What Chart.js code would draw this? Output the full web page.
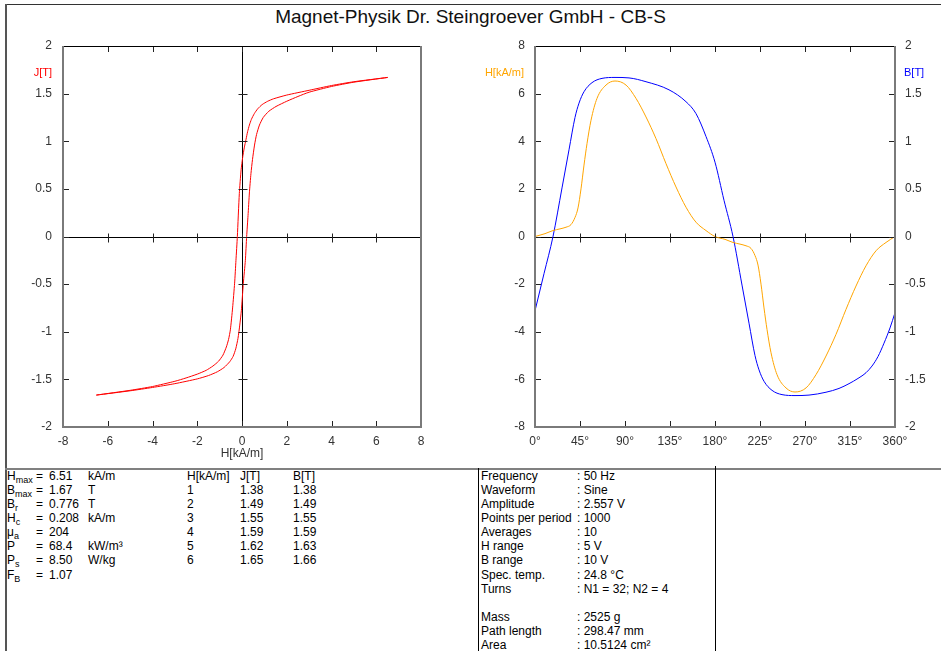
<!DOCTYPE html>
<html>
<head>
<meta charset="utf-8">
<title>Magnet-Physik CB-S</title>
<script src="https://cdn.jsdelivr.net/npm/chart.js@4.4.1/dist/chart.umd.min.js"></script>
<style>
  body { margin: 0; background: #fff; }
  #page { position: relative; width: 941px; height: 651px; overflow: hidden; background: #fff;
          font-family: 'Liberation Sans', Arial, sans-serif; color: #000; }
  .abs { position: absolute; white-space: nowrap; }
  #title { left: 0; width: 941px; top: 5px; text-align: center; font-size: 19px; line-height: 24px; color: #111; }
  .axisName { font-size: 11px; line-height: 14px; }
  .cell { font-size: 12px; line-height: 14px; }
  sub { font-size: 9px; vertical-align: -3px; line-height: 0; }
</style>
</head>
<body>
<div id="page">
  <div class="abs" style="left:5px;top:4px;width:936px;height:1px;background:#333"></div>
  <div class="abs" style="left:5px;top:4px;width:2px;height:647px;background:#555"></div>
  <div class="abs" style="left:5px;top:468px;width:936px;height:2px;background:#808080"></div>
  <div class="abs" style="left:478px;top:468px;width:1px;height:183px;background:#000"></div>
  <div class="abs" style="left:715px;top:466px;width:1px;height:185px;background:#000"></div>

  <div id="title" class="abs">Magnet-Physik Dr. Steingroever GmbH - CB-S</div>

  <canvas id="loopChart" class="abs" width="470" height="467" style="left:0;top:0"></canvas>
  <canvas id="waveChart" class="abs" width="471" height="467" style="left:470px;top:0"></canvas>

  <div class="abs axisName" style="right:889px;top:65px;color:#ff0000">J[T]</div>
  <div class="abs axisName" style="right:417px;top:65px;color:#ffa500">H[kA/m]</div>
  <div class="abs axisName" style="left:904px;top:65px;color:#0000ff">B[T]</div>

  <div id="tables"></div>
</div>

<script>
// Hysteresis loop, descending branch (H from +Hmax to -Hmax)
const descH = [6.51, 5, 4, 3, 2, 1.4, 1.15, 0.9, 0.7, 0.55, 0.42, 0.33, 0.25, 0.18, 0.1, 0.03, -0.04, -0.12, -0.208,
               -0.27, -0.33, -0.42, -0.52, -0.6, -0.7, -0.85, -1.05, -1.3, -1.6, -2, -2.5, -3, -4, -5, -6.51];
const descJ = [1.67, 1.625, 1.585, 1.535, 1.485, 1.445, 1.42, 1.385, 1.34, 1.29, 1.23, 1.17, 1.10, 1.02, 0.93, 0.83, 0.70, 0.45, 0,
               -0.25, -0.49, -0.75, -0.98, -1.08, -1.16, -1.245, -1.31, -1.36, -1.405, -1.445, -1.485, -1.52, -1.575, -1.615, -1.665];

// ascending branch (H from -Hmax to +Hmax)
const ascH = [-6.51, -5, -4, -3, -2, -1.5, -1.1, -0.8, -0.55, -0.4, -0.28, -0.18, -0.1, -0.03, 0.06, 0.15, 0.208,
              0.27, 0.33, 0.4, 0.47, 0.56, 0.65, 0.78, 0.95, 1.2, 1.52, 2, 2.5, 3, 4, 5, 6.51];
const ascJ = [-1.665, -1.62, -1.585, -1.545, -1.495, -1.46, -1.42, -1.375, -1.315, -1.26, -1.18, -1.07, -0.93, -0.78, -0.49, -0.25, 0,
              0.22, 0.457, 0.66, 0.81, 0.96, 1.07, 1.17, 1.25, 1.315, 1.365, 1.42, 1.47, 1.515, 1.575, 1.62, 1.67];

// Waveforms over one period
const hDeg = [0, 10, 18, 25, 31, 36, 40, 43, 46, 49, 52, 56, 62, 71, 80, 91, 101, 111, 121, 131, 141, 151, 161, 171, 180,
              190, 198, 205, 211, 216, 220, 223, 226, 229, 232, 236, 242, 251, 260, 271, 281, 291, 301, 311, 321, 331, 341, 351, 360];
const hVal = [0, 0.12, 0.25, 0.32, 0.39, 0.5, 0.8, 1.2, 2.0, 3.0, 3.9, 4.88, 5.8, 6.36, 6.53, 6.36, 5.8, 5.02, 4.11, 3.06, 2.08, 1.23, 0.6, 0.25, 0,
              -0.12, -0.25, -0.32, -0.39, -0.5, -0.8, -1.2, -2.0, -3.0, -3.9, -4.88, -5.8, -6.36, -6.53, -6.36, -5.8, -5.02, -4.11, -3.06, -2.08, -1.23, -0.6, -0.25, 0];

const bDeg = [0, 9, 18, 27, 34, 40, 44, 49, 57, 67, 80, 94, 111, 134, 151, 161, 171, 180,
              189, 198, 207, 214, 220, 224, 229, 237, 247, 260, 274, 291, 304, 314, 323, 331, 337, 343, 349, 355, 360];
const bVal = [-0.78, -0.39, 0, 0.51, 0.91, 1.25, 1.40, 1.52, 1.615, 1.66, 1.67, 1.665, 1.625, 1.54, 1.415, 1.29, 1.05, 0.78,
              0.38, 0, -0.51, -0.91, -1.25, -1.40, -1.52, -1.615, -1.66, -1.67, -1.665, -1.635, -1.595, -1.545, -1.49, -1.43, -1.36, -1.26, -1.12, -0.96, -0.80];

// Result tables
const paramSymbols = [['H', 'max'], ['B', 'max'], ['B', 'r'], ['H', 'c'], ['μ', 'a'], ['P', ''], ['P', 's'], ['F', 'B']];
const paramValues = ['6.51', '1.67', '0.776', '0.208', '204', '68.4', '8.50', '1.07'];
const paramUnits = ['kA/m', 'T', 'T', 'kA/m', '', 'kW/m³', 'W/kg', ''];

const fieldH = ['1', '2', '3', '4', '5', '6'];
const fieldJ = ['1.38', '1.49', '1.55', '1.59', '1.62', '1.65'];
const fieldB = ['1.38', '1.49', '1.55', '1.59', '1.63', '1.66'];

const settingLabels = ['Frequency', 'Waveform', 'Amplitude', 'Points per period', 'Averages', 'H range', 'B range',
                       'Spec. temp.', 'Turns', '', 'Mass', 'Path length', 'Area'];
const settingValues = ['50 Hz', 'Sine', '2.557 V', '1000', '10', '5 V', '10 V',
                       '24.8 °C', 'N1 = 32; N2 = 4', '', '2525 g', '298.47 mm', '10.5124 cm²'];

const tickColor = '#333';
const tickFont = { family: "'Liberation Sans', Arial, sans-serif", size: 12 };

function toPoints(xs, ys) {
    return xs.map((x, i) => ({ x: x, y: ys[i] }));
}

// frame, zero lines and inward tick marks, all placed from the chart scales
const plotFrame = {
    id: 'plotFrame',
    beforeDatasetsDraw(chart, args, opts) {
        const { ctx, chartArea: a } = chart;
        const xs = chart.scales.x;
        const ys = chart.scales[opts.yAxis];
        ctx.save();
        ctx.strokeStyle = '#000';
        ctx.lineWidth = 1;
        ctx.beginPath();
        const y0 = Math.round(ys.getPixelForValue(0)) + 0.5;
        ctx.moveTo(a.left, y0);
        ctx.lineTo(a.right, y0);
        if (opts.zeroX) {
            const x0 = Math.round(xs.getPixelForValue(0)) + 0.5;
            ctx.moveTo(x0, a.top);
            ctx.lineTo(x0, a.bottom);
        }
        ctx.stroke();
        ctx.restore();
    },
    afterDraw(chart, args, opts) {
        const { ctx, chartArea: a } = chart;
        const xs = chart.scales.x;
        const ys = chart.scales[opts.yAxis];
        const y0 = Math.round(ys.getPixelForValue(0)) + 0.5;
        const x0 = Math.round(xs.getPixelForValue(0)) + 0.5;
        ctx.save();
        ctx.strokeStyle = '#222';
        ctx.lineWidth = 1;
        ctx.beginPath();
        xs.ticks.forEach(t => {
            const x = Math.round(xs.getPixelForValue(t.value)) + 0.5;
            ctx.moveTo(x, a.top); ctx.lineTo(x, a.top + 6);
            ctx.moveTo(x, a.bottom); ctx.lineTo(x, a.bottom - 6);
            ctx.moveTo(x, y0 - 4); ctx.lineTo(x, y0 + 5);
        });
        ys.ticks.forEach(t => {
            const y = Math.round(ys.getPixelForValue(t.value)) + 0.5;
            ctx.moveTo(a.left, y); ctx.lineTo(a.left + 6, y);
            if (opts.zeroX) { ctx.moveTo(x0 - 4, y); ctx.lineTo(x0 + 5, y); }
            if (opts.rightTicks) { ctx.moveTo(a.right, y); ctx.lineTo(a.right - 6, y); }
        });
        ctx.stroke();

        // box: black top, grey sides and bottom
        ctx.strokeStyle = '#000';
        ctx.beginPath();
        ctx.moveTo(a.left, Math.round(a.top) + 0.5);
        ctx.lineTo(a.right, Math.round(a.top) + 0.5);
        ctx.stroke();
        ctx.strokeStyle = '#7a7a7a';
        ctx.lineWidth = 2;
        ctx.beginPath();
        ctx.moveTo(a.left, a.top);
        ctx.lineTo(a.left, a.bottom);
        ctx.lineTo(a.right, a.bottom);
        ctx.lineTo(a.right, a.top);
        ctx.stroke();
        ctx.restore();
    }
};

function linearAxis(min, max, step, padding, extra) {
    return Object.assign({
        type: 'linear',
        min: min,
        max: max,
        grid: { display: false, drawTicks: false },
        border: { display: false },
        ticks: { stepSize: step, padding: padding, color: tickColor, font: tickFont, callback: v => String(v) }
    }, extra);
}

new Chart(document.getElementById('loopChart'), {
    type: 'scatter',
    data: {
        datasets: [
            { data: toPoints(descH, descJ), showLine: true, borderColor: '#ff0000', borderWidth: 1, pointRadius: 0, tension: 0.2 },
            { data: toPoints(ascH, ascJ), showLine: true, borderColor: '#ff0000', borderWidth: 1, pointRadius: 0, tension: 0.2 }
        ]
    },
    plugins: [plotFrame],
    options: {
        responsive: false,
        animation: false,
        layout: { padding: { top: 46, right: 49, left: 0, bottom: 0 } },
        plugins: {
            legend: { display: false },
            tooltip: { enabled: false },
            plotFrame: { yAxis: 'y', zeroX: true, rightTicks: false }
        },
        scales: {
            x: linearAxis(-8, 8, 2, 7, {
                title: { display: true, text: 'H[kA/m]', color: tickColor, font: tickFont, padding: { top: 0, bottom: 6 } },
                afterFit: s => { s.height = 40; }
            }),
            y: linearAxis(-2, 2, 0.5, 11, {
                afterFit: s => { s.width = 63; }
            })
        }
    }
});

const degAxis = linearAxis(0, 360, 45, 7, {
    afterFit: s => { s.height = 40; }
});
degAxis.ticks.callback = v => v + '°';

new Chart(document.getElementById('waveChart'), {
    type: 'scatter',
    data: {
        datasets: [
            { data: toPoints(hDeg, hVal), yAxisID: 'y', showLine: true, borderColor: '#ffa500', borderWidth: 1,
              pointRadius: 0, cubicInterpolationMode: 'monotone' },
            { data: toPoints(bDeg, bVal), yAxisID: 'y2', showLine: true, borderColor: '#0000ff', borderWidth: 1,
              pointRadius: 0, cubicInterpolationMode: 'monotone' }
        ]
    },
    plugins: [plotFrame],
    options: {
        responsive: false,
        animation: false,
        layout: { padding: { top: 46, right: 0, left: 0, bottom: 0 } },
        plugins: {
            legend: { display: false },
            tooltip: { enabled: false },
            plotFrame: { yAxis: 'y', zeroX: false, rightTicks: true }
        },
        scales: {
            x: degAxis,
            y: linearAxis(-8, 8, 2, 10, {
                position: 'left',
                afterFit: s => { s.width = 65; }
            }),
            y2: linearAxis(-2, 2, 0.5, 10, {
                position: 'right',
                afterFit: s => { s.width = 46; }
            })
        }
    }
});

// text tables below the charts
function addCell(text, left, row, html) {
    const el = document.createElement('div');
    el.className = 'abs cell';
    el.style.left = left + 'px';
    el.style.top = (469 + row * 14.08) + 'px';
    if (html) el.innerHTML = text; else el.textContent = text;
    document.getElementById('tables').appendChild(el);
}

paramSymbols.forEach((s, i) => {
    addCell(s[0] + (s[1] ? '<sub>' + s[1] + '</sub>' : ''), 7, i, true);
    addCell('=', 36, i);
    addCell(paramValues[i], 49, i);
    addCell(paramUnits[i], 88, i);
});

addCell('H[kA/m]', 187, 0);
addCell('J[T]', 240, 0);
addCell('B[T]', 293, 0);
fieldH.forEach((h, i) => {
    addCell(h, 187, i + 1);
    addCell(fieldJ[i], 240, i + 1);
    addCell(fieldB[i], 293, i + 1);
});

settingLabels.forEach((label, i) => {
    if (!label) return;
    addCell(label, 481, i);
    addCell(': ' + settingValues[i], 577, i);
});
</script>
</body>
</html>
